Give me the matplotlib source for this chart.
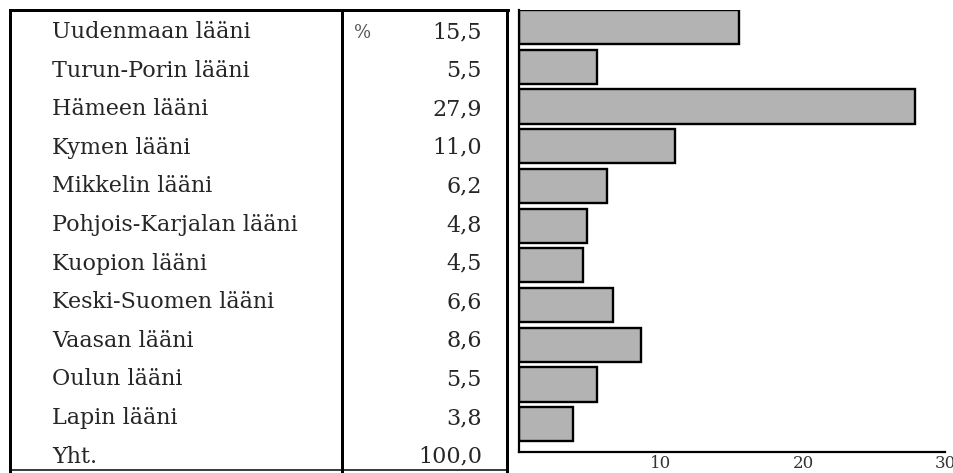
import matplotlib
matplotlib.use("Agg")
import matplotlib.pyplot as plt
from matplotlib.lines import Line2D

regions = ["Uudenmaan lääni", "Turun-Porin lääni", "Hämeen lääni", "Kymen lääni",
           "Mikkelin lääni", "Pohjois-Karjalan lääni", "Kuopion lääni",
           "Keski-Suomen lääni", "Vaasan lääni", "Oulun lääni", "Lapin lääni"]
values = [15.5, 5.5, 27.9, 11.0, 6.2, 4.8, 4.5, 6.6, 8.6, 5.5, 3.8]
value_labels = ["15,5", "5,5", "27,9", "11,0", "6,2", "4,8", "4,5", "6,6", "8,6", "5,5", "3,8"]
total_label = "Yht."
total_value = "100,0"
xticks = [10, 20, 30]

W, H = 954, 473
fig = plt.figure(figsize=(W / 100, H / 100), dpi=100)
fig.patch.set_facecolor("white")

def fx(px):
    return px / W

def fy(py):
    return 1 - py / H

FONT = "DejaVu Serif"
FS = 16

# Table lines
lines = [
    ((10, 10), (10, 473), 3.0),
    ((10, 508), (10, 10), 3.0),
    ((342, 342), (10, 473), 3.0),
    ((507, 507), (10, 473), 3.0),
    ((10, 507), (470, 470), 1.5),
]
for xs, ys, lw in lines:
    fig.add_artist(Line2D([fx(x) for x in xs], [fy(y) for y in ys],
                          color="black", lw=lw * 0.72, solid_capstyle="projecting"))

# Table text
row_y0, row_step = 38, 38.6
all_labels = regions + [total_label]
all_vals = value_labels + [total_value]
for i, (lab, val) in enumerate(zip(all_labels, all_vals)):
    y = row_y0 + i * row_step
    fig.text(fx(52), fy(y), lab, ha="left", va="baseline", fontsize=FS,
             family=FONT, color="#262626")
    fig.text(fx(482), fy(y), val, ha="right", va="baseline", fontsize=FS,
             family=FONT, color="#262626")
fig.text(fx(354), fy(row_y0), "%", ha="left", va="baseline", fontsize=FS - 3,
         family=FONT, color="#555555")

# Bar chart
ax_left, ax_right = 519, 945
ax_top, ax_bot = 10, 452
ax = fig.add_axes([fx(ax_left), fy(ax_bot), (ax_right - ax_left) / W, (ax_bot - ax_top) / H])
h = 0.86
ax.barh(range(len(values)), values, height=h, color="#b3b3b3",
        edgecolor="black", linewidth=1.7)
ax.set_xlim(0, 30)
ax.set_ylim(10.7, -h / 2)
ax.set_facecolor("none")
for s in ["top", "right"]:
    ax.spines[s].set_visible(False)
ax.spines["left"].set_linewidth(1.6)
ax.spines["bottom"].set_linewidth(1.6)
ax.set_yticks([])
ax.set_xticks(xticks)
ax.set_xticklabels([str(t) for t in xticks], family=FONT, fontsize=12, color="#333333")
ax.tick_params(axis="x", length=0, pad=2)

fig.savefig("out.png", dpi=100, facecolor="white")
